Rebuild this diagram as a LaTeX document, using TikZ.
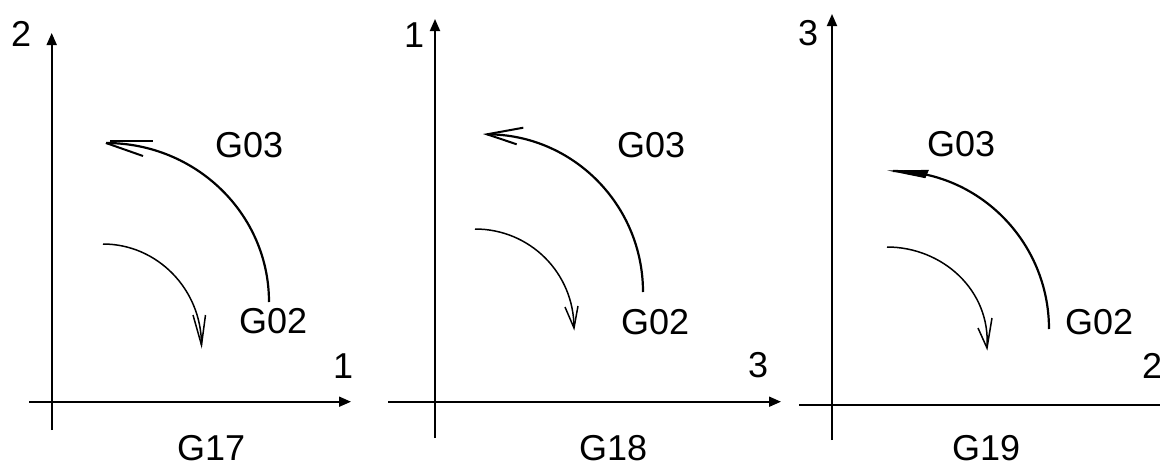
\documentclass[tikz,border=0pt]{standalone}
\usepackage{fontspec}
\setmainfont{Liberation Sans}
\usetikzlibrary{arrows.meta}
\begin{document}
\begin{tikzpicture}[x=1pt,y=-1pt,
  axisline/.style={line width=1.8pt},
  axisarrow/.style={line width=1.8pt,-{Triangle[length=12pt,width=10pt]}},
  bigarc/.style={line width=2.2pt},
  smallarc/.style={line width=1.5pt},
  barb/.style={line width=2pt},
  sbarb/.style={line width=1.5pt},
  lbl/.style={anchor=base west,inner sep=0pt,text depth=0pt,font=\fontsize{36}{40}\selectfont}]
\useasboundingbox (0,0) rectangle (1160,466);

% ---------------- Panel 1 : G17 ----------------
\coordinate (v1b) at (51.7,430);   \coordinate (v1t) at (51.7,33);
\coordinate (h1l) at (29,401.7);   \coordinate (h1r) at (351,401.7);
\draw[axisarrow] (v1b) -- (v1t);
\draw[axisarrow] (h1l) -- (h1r);
\node[lbl] (ax1y) at (11,46) {2};
\node[lbl] (ax1x) at (333,378) {1};
\node[lbl] (g17) at (177,460) {G17};
\node[lbl] (g03a) at (215,157) {G03};
\node[lbl] (g02a) at (239,333) {G02};
% big arc
\coordinate (b1s) at (269,302); \coordinate (b1e) at (106,143);
\draw[bigarc] (b1s) .. controls (269,214) and (196,143) .. (b1e);
\coordinate (b1p) at (110,140.5); \coordinate (b1q) at (153,140.5);
\coordinate (b1r) at (143,156);
\draw[barb] (b1p) -- (b1q);
\draw[barb] (b1e) -- (b1r);
% small arc
\coordinate (s1s) at (103,244); \coordinate (s1e) at (201.5,345);
\draw[smallarc] (s1s) .. controls (157,244) and (201.5,289) .. (s1e);
\coordinate (s1l) at (193,315); \coordinate (s1r) at (205.5,315);
\draw[sbarb] (s1l) -- (s1e) -- (s1r);

% ---------------- Panel 2 : G18 ----------------
\coordinate (v2b) at (435,438);   \coordinate (v2t) at (435,19);
\coordinate (h2l) at (388,401.7); \coordinate (h2r) at (781,401.7);
\draw[axisarrow] (v2b) -- (v2t);
\draw[axisarrow] (h2l) -- (h2r);
\node[lbl] (ax2y) at (404,47) {1};
\node[lbl] (ax2x) at (748,377) {3};
\node[lbl] (g18) at (579,460) {G18};
\node[lbl] (g03b) at (617,157) {G03};
\node[lbl] (g02b) at (621,334) {G02};
% big arc
\coordinate (b2s) at (643,292); \coordinate (b2e) at (487,134.3);
\draw[bigarc] (b2s) .. controls (643,205) and (573,134.3) .. (b2e);
\coordinate (b2q) at (523.3,127.7); \coordinate (b2r) at (516.7,144.3);
\draw[barb] (b2q) -- (b2e) -- (b2r);
% small arc
\coordinate (s2s) at (475,229); \coordinate (s2e) at (574,328);
\draw[smallarc] (s2s) .. controls (530,229) and (574,273) .. (s2e);
\coordinate (s2l) at (565,307); \coordinate (s2r) at (578,306);
\draw[sbarb] (s2l) -- (s2e) -- (s2r);

% ---------------- Panel 3 : G19 ----------------
\coordinate (v3b) at (832,440);   \coordinate (v3t) at (832,14);
\coordinate (h3l) at (799,405);   \coordinate (h3r) at (1160,405);
\draw[axisarrow] (v3b) -- (v3t);
\draw[axisline] (h3l) -- (h3r);
\node[lbl] (ax3y) at (798,45) {3};
\node[lbl] (ax3x) at (1142,378) {2};
\node[lbl] (g19) at (952,460) {G19};
\node[lbl] (g03c) at (927,156) {G03};
\node[lbl] (g02c) at (1065,334) {G02};
% big arc
\coordinate (b3s) at (1049,329); \coordinate (b3e) at (893,171);
\draw[bigarc] (b3s) .. controls (1049,242) and (979,171) .. (b3e);
\coordinate (b3q) at (928,170.5); \coordinate (b3r) at (925,177.5);
\fill (b3e) -- (b3q) -- (b3r) -- cycle;
\draw[line width=1.2pt] (b3e) -- (b3q) -- (b3r) -- cycle;
% small arc
\coordinate (s3s) at (887,247); \coordinate (s3e) at (987,348);
\draw[smallarc] (s3s) .. controls (942,247) and (991,290) .. (s3e);
\coordinate (s3l) at (978,328); \coordinate (s3r) at (992,318);
\draw[sbarb] (s3l) -- (s3e) -- (s3r);
\end{tikzpicture}
\end{document}
